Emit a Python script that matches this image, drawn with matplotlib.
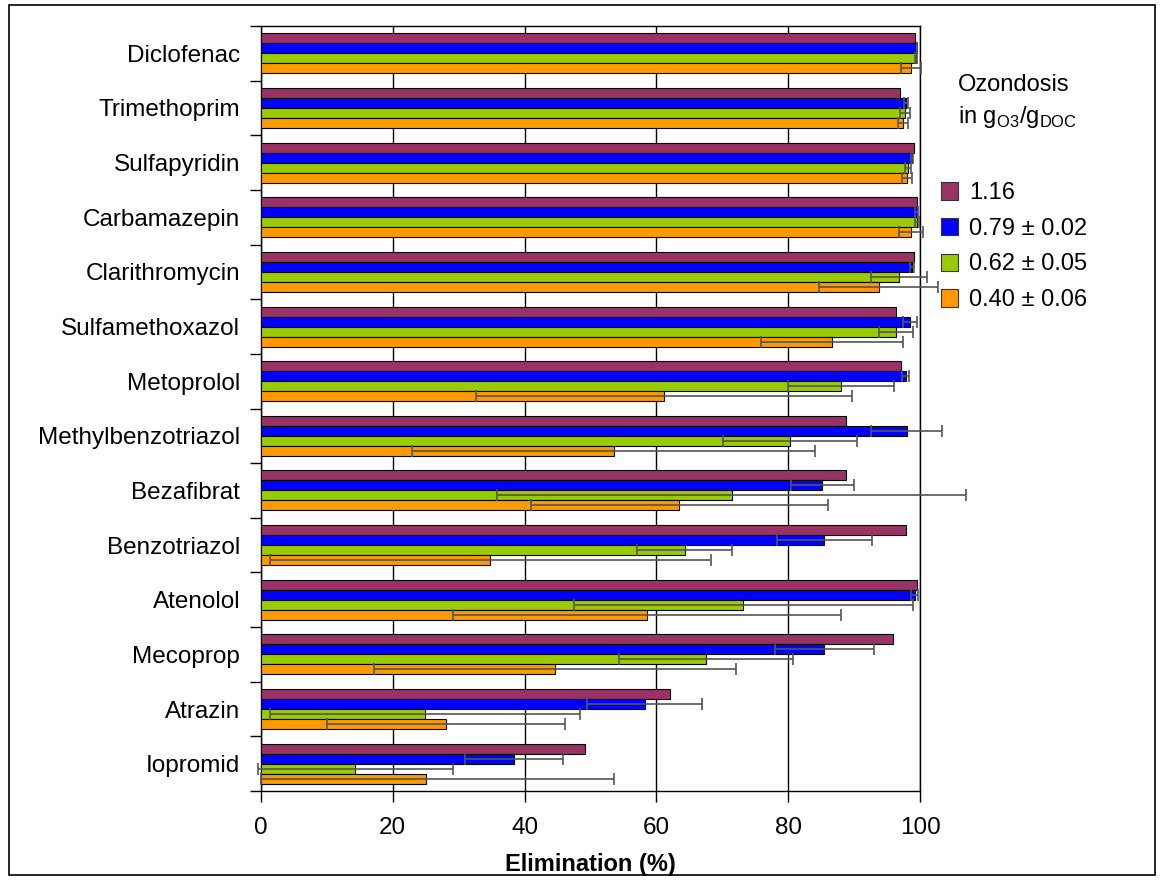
import numpy as np
import matplotlib
matplotlib.use('Agg')
import matplotlib.pyplot as plt
from matplotlib.patches import Rectangle, Patch

plt.rcParams['font.family'] = ['Liberation Sans', 'DejaVu Sans']
plt.rcParams['mathtext.fontset'] = 'custom'
plt.rcParams['mathtext.rm'] = 'Liberation Sans'

# Substances, top to bottom.
SUBSTANCES = ['Diclofenac', 'Trimethoprim', 'Sulfapyridin', 'Carbamazepin',
              'Clarithromycin', 'Sulfamethoxazol', 'Metoprolol',
              'Methylbenzotriazol', 'Bezafibrat', 'Benzotriazol', 'Atenolol',
              'Mecoprop', 'Atrazin', 'Iopromid']

DOSE_LABELS = ['1.16', '0.79 \u00b1 0.02', '0.62 \u00b1 0.05', '0.40 \u00b1 0.06']
COLORS = ['#993366', '#0000FF', '#99CC00', '#FF9900']

# Elimination (%) per ozone dose.
ELIM_116 = [99.3, 97.0, 99.1, 99.6, 99.1, 96.3, 97.1, 88.8, 88.8, 97.8, 99.5, 95.9, 62.1, 49.2]
ELIM_079 = [99.5, 97.9, 98.8, 99.5, 98.8, 98.5, 97.8, 98.0, 85.2, 85.5, 99.2, 85.5, 58.2, 38.4]
ELIM_062 = [99.4, 97.7, 98.2, 99.5, 96.8, 96.3, 88.0, 80.3, 71.4, 64.3, 73.2, 67.6, 24.9, 14.3]
ELIM_040 = [98.6, 97.4, 98.0, 98.6, 93.7, 86.6, 61.2, 53.5, 63.5, 34.8, 58.6, 44.6, 28.1, 25.1]

# Standard deviations (no error bars for 1.16).
ERR_079 = [0.0, 0.3, 0.2, 0.2, 0.3, 1.1, 0.5, 5.4, 4.8, 7.2, 0.5, 7.5, 8.7, 7.4]
ERR_062 = [0.2, 0.8, 0.5, 0.3, 4.3, 2.6, 8.1, 10.2, 35.6, 7.2, 25.7, 13.2, 23.5, 14.8]
ERR_040 = [1.5, 0.8, 0.8, 1.8, 9.0, 10.8, 28.5, 30.6, 22.6, 33.5, 29.4, 27.5, 18.1, 28.4]

fig = plt.figure(figsize=(11.64, 8.9), dpi=100)
ax = fig.add_axes([0.2242, 0.1112, 0.5662, 0.8596])

y = np.arange(len(SUBSTANCES))
h = 0.183
series = [(ELIM_116, None), (ELIM_079, ERR_079), (ELIM_062, ERR_062), (ELIM_040, ERR_040)]
for i, (vals, err) in enumerate(series):
    pos = y + (i - 1.5) * h
    ax.barh(pos, vals, height=h, color=COLORS[i], edgecolor='black',
            linewidth=0.8, zorder=3)
    if err is not None:
        vals = np.array(vals)
        err = np.array(err)
        # whiskers running far below zero are cut at the axis
        lower = np.where(err > vals + 1, vals, err)
        eb = ax.errorbar(vals, pos, xerr=[lower, err], fmt='none',
                         ecolor='#555555', elinewidth=1.2, capsize=4,
                         capthick=1.2, zorder=4)
        for art in list(eb.lines[1]) + list(eb.lines[2]):
            art.set_clip_on(False)

ax.set_xlim(0, 100)
ax.set_ylim(len(SUBSTANCES) - 0.5, -0.5)
ax.set_xticks([0, 20, 40, 60, 80, 100])
ax.set_yticks(y)
ax.set_yticklabels(SUBSTANCES, fontsize=17.5)
ax.set_yticks(np.arange(len(SUBSTANCES) + 1) - 0.5, minor=True)
ax.tick_params(axis='y', which='major', length=0, pad=15)
ax.tick_params(axis='y', which='minor', length=8, direction='out', width=1)
ax.tick_params(axis='x', length=8, direction='out', width=1, labelsize=17.5, pad=11)
ax.grid(axis='x', color='black', linewidth=1, zorder=0)
ax.set_axisbelow(True)
for sp in ax.spines.values():
    sp.set_linewidth(1)
ax.set_xlabel('Elimination (%)', fontsize=17, fontweight='bold', labelpad=10)

fig.text(0.823, 0.905, 'Ozondosis', fontsize=17, va='center', ha='left')
fig.text(0.823, 0.869, r'in g$_{\mathrm{O3}}$/g$_{\mathrm{DOC}}$', fontsize=17,
         va='center', ha='left')

handles = [Patch(facecolor=c, edgecolor='#333333', linewidth=0.8) for c in COLORS]
fig.legend(handles, DOSE_LABELS, loc='upper left', bbox_to_anchor=(0.8, 0.806),
           frameon=False, fontsize=17, handlelength=0.75, handleheight=0.75,
           handletextpad=0.45, labelspacing=0.58, borderaxespad=0)

fig.patches.append(Rectangle((9 / 1164, 1 - 875 / 890), 1146 / 1164, 870 / 890,
                             transform=fig.transFigure, fill=False,
                             edgecolor='black', linewidth=1.2))

fig.savefig('out.png', dpi=100)
